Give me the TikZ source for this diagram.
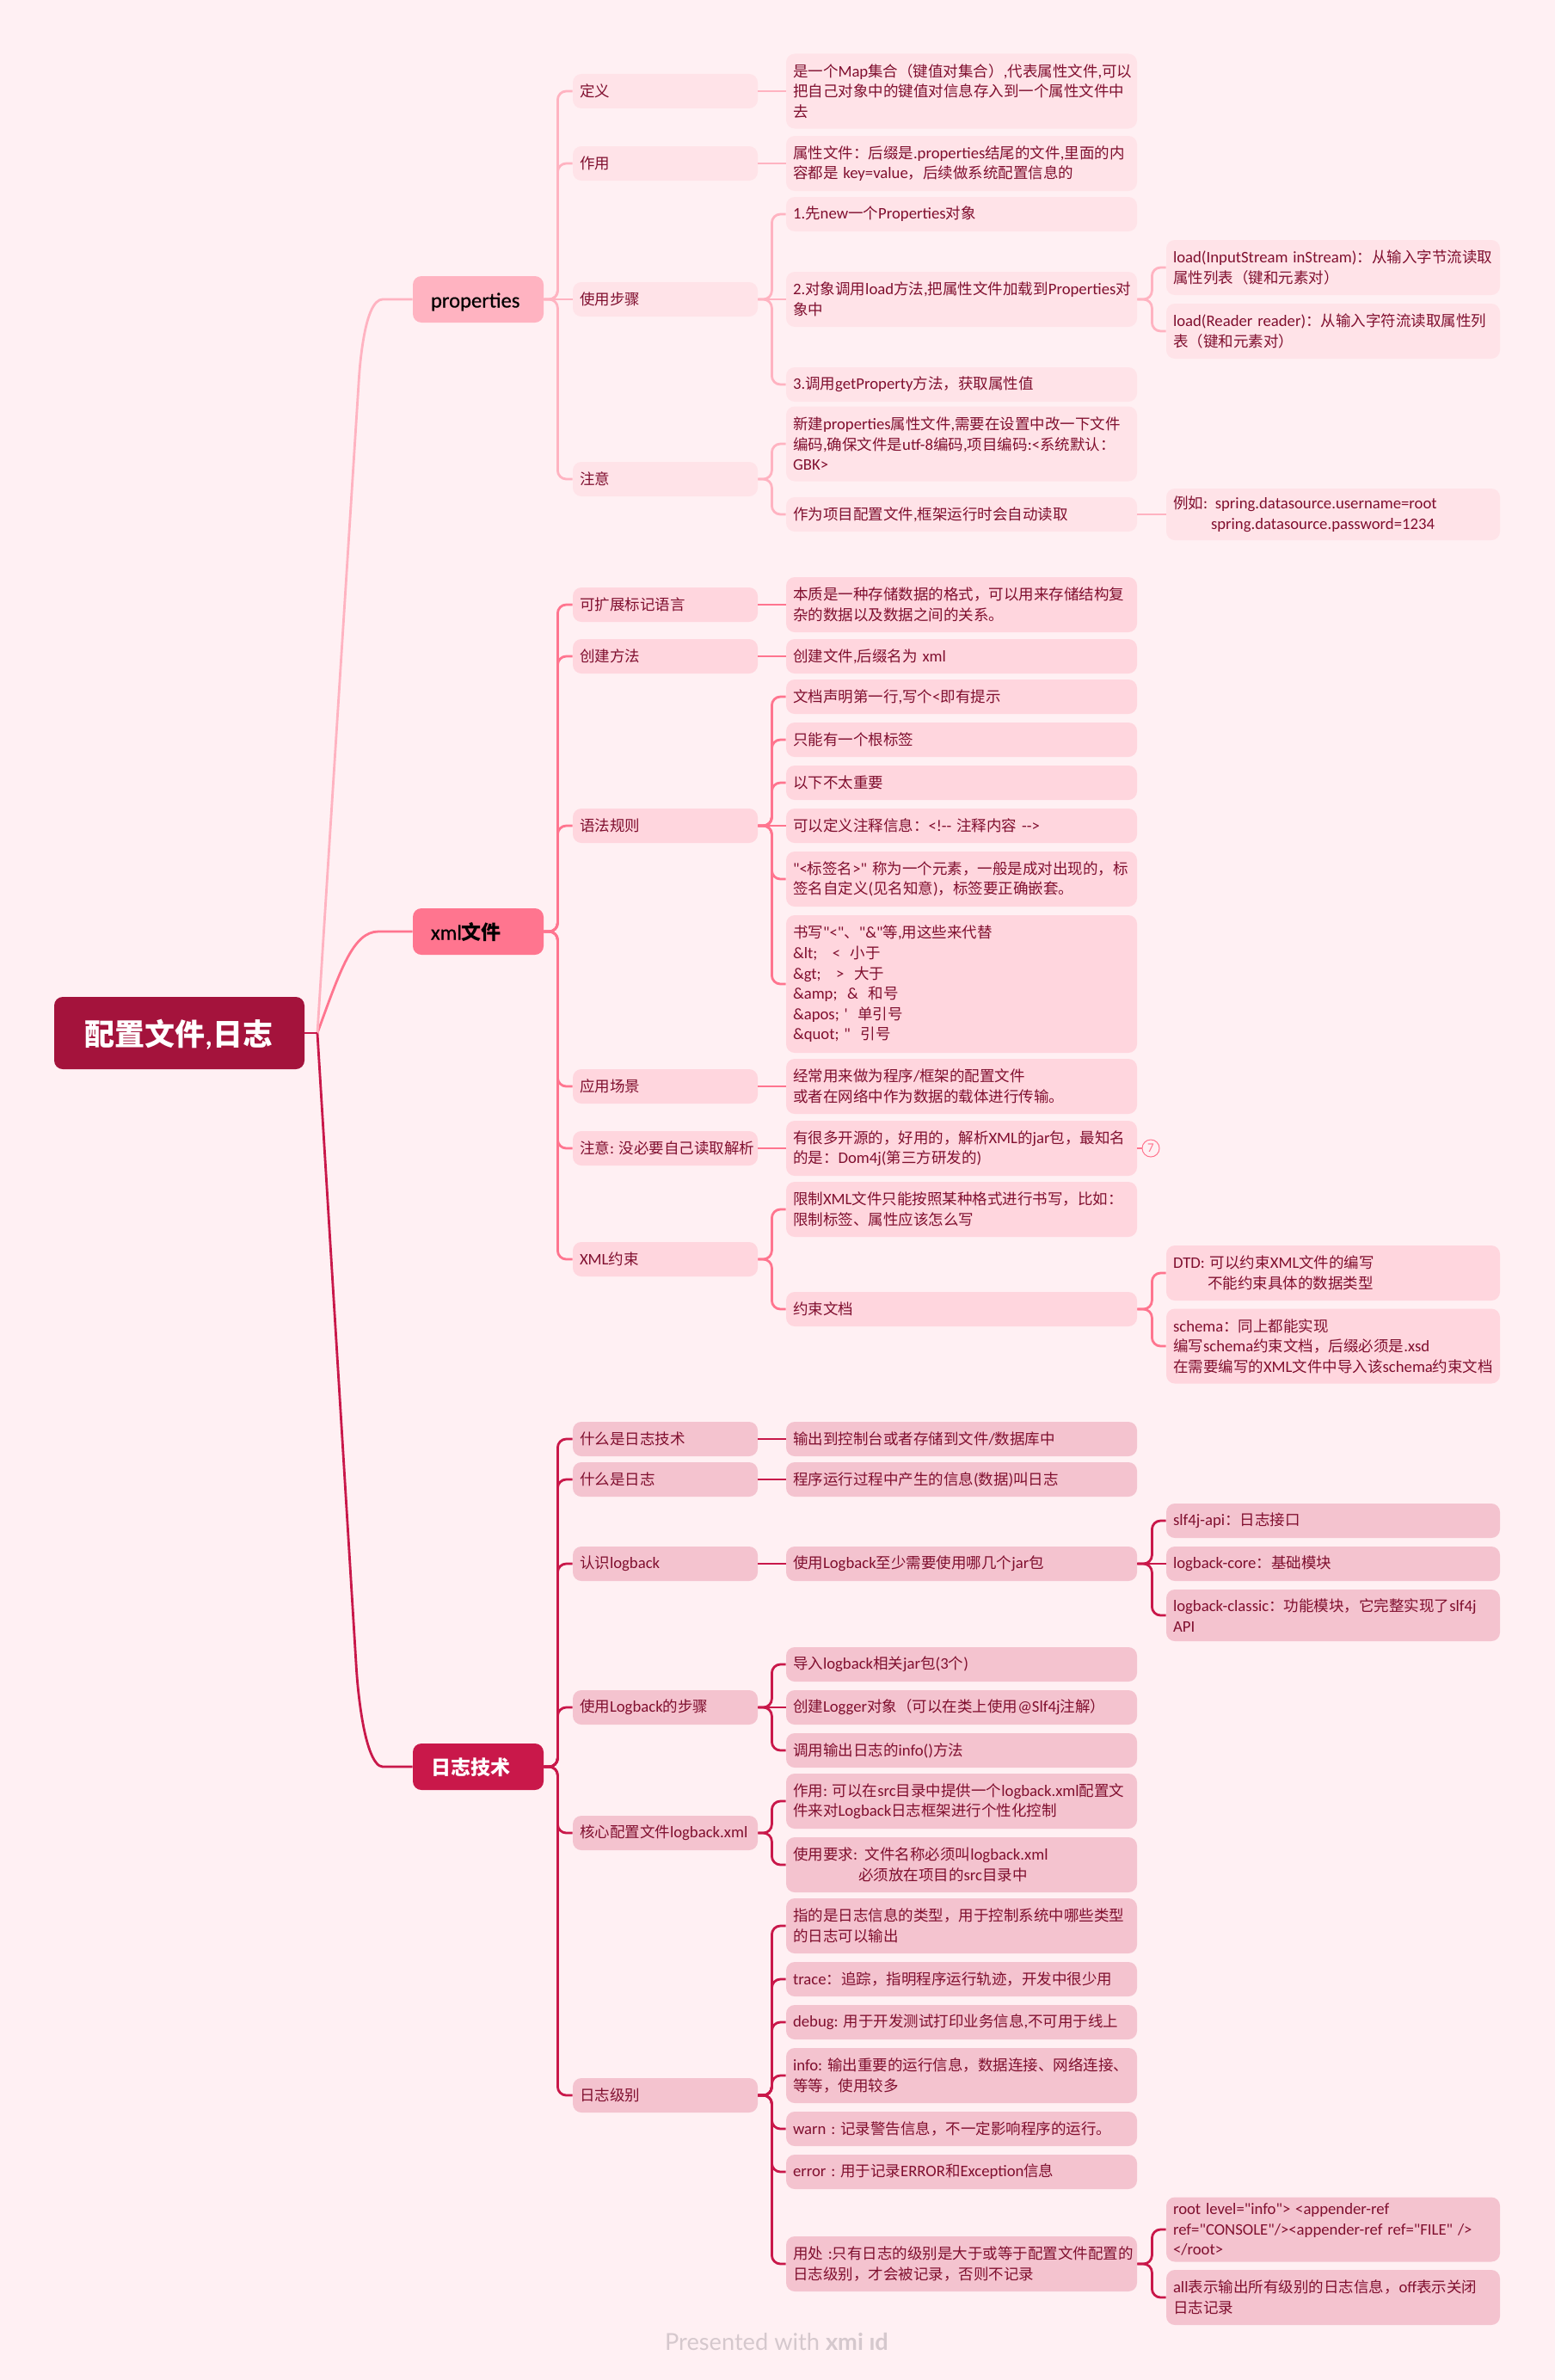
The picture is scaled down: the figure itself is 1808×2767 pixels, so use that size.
\documentclass[tikz,border=0pt]{standalone}
\usepackage{fontspec}
\setmainfont{Carlito}
\newfontfamily\latnfam[Scale=1.07,BoldFont=Carlito,BoldFeatures={FakeBold=0.5}]{Carlito}
\newfontfamily\cjkfam{Noto Sans CJK SC}
\newfontfamily\stampfam{Lato}
\usetikzlibrary{positioning}
% CJK characters switch to the CJK family, everything else stays latin
\XeTeXinterchartokenstate=1
\newXeTeXintercharclass\cjkclass
\count255="3000
\loop \XeTeXcharclass\count255=\cjkclass \ifnum\count255<"9FFF \advance\count255 by 1 \repeat
\count255="FF00
\loop \XeTeXcharclass\count255=\cjkclass \ifnum\count255<"FFEF \advance\count255 by 1 \repeat
\XeTeXinterchartoks 0 \cjkclass={\cjkfam}
\XeTeXinterchartoks \cjkclass 0={\latnfam}
\XeTeXinterchartoks 4095 \cjkclass={\cjkfam}
\XeTeXinterchartoks 4095 0={\latnfam}
\definecolor{pagebg}{HTML}{FFF0F3}
\definecolor{rootc}{HTML}{A4133C}
\definecolor{propc}{HTML}{FFB3C1}
\definecolor{xmlc}{HTML}{FF758F}
\definecolor{logc}{HTML}{C9184A}
\definecolor{propsub}{HTML}{FFE3E8}
\definecolor{xmlsub}{HTML}{FFD6DE}
\definecolor{logsub}{HTML}{F4C3CF}
\definecolor{subtext}{HTML}{800F2F}
\definecolor{stamp}{HTML}{D5C8CD}

\begin{document}
\begin{tikzpicture}[x=0.5pt, y=-0.5pt,
        every node/.style={font=\fontsize{8.75}{11.8}\selectfont},
        leaf/.style={rectangle, rounded corners=5pt, inner xsep=4pt, inner ysep=0pt, minimum height=20pt, align=left, text=subtext},
        cola/.style={leaf, text width=99.5pt},
        colb/.style={leaf, text width=196pt},
        colc/.style={leaf, text width=186pt},
        two/.style={minimum height=32pt},
        three/.style={minimum height=43.5pt},
        six/.style={minimum height=80pt},
        prop/.style={fill=propsub},
        xml/.style={fill=xmlsub},
        log/.style={fill=logsub},
        branch/.style={rectangle, rounded corners=5pt, inner xsep=10.5pt, inner ysep=0pt, text width=55pt, minimum height=27pt, text height=12pt, text depth=2.5pt, align=left, font=\fontsize{11.5}{14}\selectfont\bfseries},
        elbow/.style={to path={-- ++(#1,0) |- (\tikztotarget)}},
        link/.style={line width=1.4pt, rounded corners=5pt},
        plink/.style={link, propc},
        xlink/.style={link, xmlc},
        llink/.style={link, logc}
      ]
        \useasboundingbox (0,0) rectangle (1808,2767);
        \fill[pagebg] (0,0) rectangle (1808,2767);

        % root and main branches
        \node[branch, fill=rootc, text=white, inner xsep=17.5pt, text width=110.5pt, minimum height=42pt, text height=18pt, text depth=4pt, font=\fontsize{17.5}{20}\selectfont\bfseries] (root) at (208.5,1201) {配置文件,日志};
        \node[branch, fill=propc, text=black] (props) at (556,348) {properties};
        \node[branch, fill=xmlc, text=black] (xmlf) at (556,1083) {xml文件};
        \node[branch, fill=logc, text=white] (logt) at (556,2054) {日志技术};
        \coordinate (hub) at (369,1201);

        % properties
        \node[cola, prop] (p1) at (773.5,106) {定义};
        \node[cola, prop] (p2) at (773.5,190) {作用};
        \node[cola, prop] (p3) at (773.5,348) {使用步骤};
        \node[cola, prop] (p4) at (773.5,557) {注意};
        \node[colb, prop, three] (p1a) at (1118,106) {是一个Map集合（键值对集合）,代表属性文件,可以\\把自己对象中的键值对信息存入到一个属性文件中\\去};
        \node[colb, prop, two] (p2a) at (1118,190) {属性文件：后缀是.properties结尾的文件,里面的内\\容都是 key=value，后续做系统配置信息的};
        \node[colb, prop] (p3a) at (1118,249) {1.先new一个Properties对象};
        \node[colb, prop, two] (p3b) at (1118,348) {2.对象调用load方法,把属性文件加载到Properties对\\象中};
        \node[colb, prop] (p3c) at (1118,447) {3.调用getProperty方法，获取属性值};
        \node[colb, prop, three] (p4a) at (1118,516) {新建properties属性文件,需要在设置中改一下文件\\编码,确保文件是utf-8编码,项目编码:<系统默认：\\GBK>};
        \node[colb, prop] (p4b) at (1118,598) {作为项目配置文件,框架运行时会自动读取};
        \node[colc, prop, two] (p3b1) at (1550,311) {load(InputStream~inStream)：从输入字节流读取\\属性列表（键和元素对）};
        \node[colc, prop, two] (p3b2) at (1550,385) {load(Reader~reader)：从输入字符流读取属性列\\表（键和元素对）};
        \node[colc, prop, two, minimum height=30pt] (p4b1) at (1550,598) {例如: spring.datasource.username=root\\\hspace*{22pt}spring.datasource.password=1234};

        % xml
        \node[cola, xml] (x1) at (773.5,703) {可扩展标记语言};
        \node[cola, xml] (x2) at (773.5,763) {创建方法};
        \node[cola, xml] (x3) at (773.5,960) {语法规则};
        \node[cola, xml] (x4) at (773.5,1263) {应用场景};
        \node[cola, xml] (x5) at (773.5,1335) {注意:~没必要自己读取解析};
        \node[cola, xml] (x6) at (773.5,1464) {XML约束};
        \node[colb, xml, two] (x1a) at (1118,703) {本质是一种存储数据的格式，可以用来存储结构复\\杂的数据以及数据之间的关系。};
        \node[colb, xml] (x2a) at (1118,763) {创建文件,后缀名为 xml};
        \node[colb, xml] (x3a) at (1118,810) {文档声明第一行,写个<即有提示};
        \node[colb, xml] (x3b) at (1118,860) {只能有一个根标签};
        \node[colb, xml] (x3c) at (1118,910) {以下不太重要};
        \node[colb, xml] (x3d) at (1118,960) {可以定义注释信息：<!-{}- 注释内容 -{}->};
        \node[colb, xml, two] (x3e) at (1118,1022) {"<标签名>" 称为一个元素，一般是成对出现的，标\\签名自定义(见名知意)，标签要正确嵌套。};
        \node[colb, xml, six] (x3f) at (1118,1144) {书写"<"、"\&"等,用这些来代替\\\&lt;\ \ \ <\ \ 小于\\\&gt;\ \ \ >\ \ 大于\\\&amp;\ \ \&\ \ 和号\\\&apos;\ '\ \ 单引号\\\&quot;\ "\ \ 引号};
        \node[colb, xml, two] (x4a) at (1118,1263) {经常用来做为程序/框架的配置文件\\或者在网络中作为数据的载体进行传输。};
        \node[colb, xml, two] (x5a) at (1118,1335) {有很多开源的，好用的，解析XML的jar包，最知名\\的是：Dom4j(第三方研发的)};
        \node[colb, xml, two] (x6a) at (1118,1406) {限制XML文件只能按照某种格式进行书写，比如：\\限制标签、属性应该怎么写};
        \node[colb, xml] (x6b) at (1118,1522) {约束文档};
        \node[colc, xml, two] (x6b1) at (1550,1480) {DTD: 可以约束XML文件的编写\\\hspace*{20pt}不能约束具体的数据类型};
        \node[colc, xml, three] (x6b2) at (1550,1565) {schema：同上都能实现\\编写schema约束文档，后缀必须是.xsd\\在需要编写的XML文件中导入该schema约束文档};
        \node[circle, draw=xmlc, fill=pagebg, text=xmlc, line width=0.5pt, inner sep=0pt, minimum size=10pt, font=\fontsize{7}{8}\selectfont] (note) at (1338,1335) {7};

        % logback
        \node[cola, log] (l1) at (773.5,1673) {什么是日志技术};
        \node[cola, log] (l2) at (773.5,1720) {什么是日志};
        \node[cola, log] (l3) at (773.5,1818) {认识logback};
        \node[cola, log] (l4) at (773.5,1985) {使用Logback的步骤};
        \node[cola, log] (l5) at (773.5,2131) {核心配置文件logback.xml};
        \node[cola, log] (l6) at (773.5,2436) {日志级别};
        \node[colb, log] (l1a) at (1118,1673) {输出到控制台或者存储到文件/数据库中};
        \node[colb, log] (l2a) at (1118,1720) {程序运行过程中产生的信息(数据)叫日志};
        \node[colb, log] (l3a) at (1118,1818) {使用Logback至少需要使用哪几个jar包};
        \node[colb, log] (l4a) at (1118,1935) {导入logback相关jar包(3个)};
        \node[colb, log] (l4b) at (1118,1985) {创建Logger对象（可以在类上使用@Slf4j注解）};
        \node[colb, log] (l4c) at (1118,2035) {调用输出日志的info()方法};
        \node[colb, log, two] (l5a) at (1118,2094) {作用:~可以在src目录中提供一个logback.xml配置文\\件来对Logback日志框架进行个性化控制};
        \node[colb, log, two] (l5b) at (1118,2168) {使用要求: 文件名称必须叫logback.xml\\\hspace*{38pt}必须放在项目的src目录中};
        \node[colb, log, two] (l6a) at (1118,2239) {指的是日志信息的类型，用于控制系统中哪些类型\\的日志可以输出};
        \node[colb, log] (l6b) at (1118,2301) {trace：追踪，指明程序运行轨迹，开发中很少用};
        \node[colb, log] (l6c) at (1118,2351) {debug:~用于开发测试打印业务信息,不可用于线上};
        \node[colb, log, two] (l6d) at (1118,2413) {info:~输出重要的运行信息，数据连接、网络连接、\\等等，使用较多};
        \node[colb, log] (l6e) at (1118,2475) {warn :~记录警告信息，不一定影响程序的运行。};
        \node[colb, log] (l6f) at (1118,2525) {error :~用于记录ERROR和Exception信息};
        \node[colb, log, two] (l6g) at (1118,2632) {用处~:只有日志的级别是大于或等于配置文件配置的\\日志级别，才会被记录，否则不记录};
        \node[colc, log] (l3a1) at (1550,1768) {slf4j-api：日志接口};
        \node[colc, log] (l3a2) at (1550,1818) {logback-core：基础模块};
        \node[colc, log, two, minimum height=30pt] (l3a3) at (1550,1878) {logback-classic：功能模块，它完整实现了slf4j\\API};
        \node[colc, log, three, minimum height=37.5pt] (l6g1) at (1550,2592) {root~level="info">~<appender-ref\\ref="CONSOLE"/><appender-ref~ref="FILE"~/>\\</root>};
        \node[colc, log, two] (l6g2) at (1550,2671) {all表示输出所有级别的日志信息，off表示关闭\\日志记录};

        \node[text=stamp, font=\fontsize{13.6}{15}\selectfont] (stampn) at (903,2722) {\XeTeXinterchartokenstate=0\relax\stampfam Presented with {\bfseries xmi ıd}};

        % main lines
        \draw[link, logc] (hub) -- (415,1950) .. controls (423,2030) and (435,2054) .. (455,2054) -- (logt.west);
        \draw[link, xmlc] (hub) .. controls (395,1130) and (410,1083) .. (450,1083) -- (xmlf.west);
        \draw[link, propc] (hub) -- (418,430) .. controls (425,365) and (435,348) .. (455,348) -- (props.west);
        \draw[link, logc] (root.east) -- (hub);

        % branches
        \foreach \n in {p1,p2,p4} {\draw[plink] (props.east) to[elbow=16] (\n.west);}
        \draw[plink] (props.east) -- (p3.west);
        \draw[plink] (p1.east) -- (p1a.west);
        \draw[plink] (p2.east) -- (p2a.west);
        \foreach \n in {p3a,p3c} {\draw[plink] (p3.east) to[elbow=16] (\n.west);}
        \draw[plink] (p3.east) -- (p3b.west);
        \foreach \n in {p3b1,p3b2} {\draw[plink] (p3b.east) to[elbow=17] (\n.west);}
        \foreach \n in {p4a,p4b} {\draw[plink] (p4.east) to[elbow=16] (\n.west);}
        \draw[plink] (p4b.east) -- (p4b1.west);

        \foreach \n in {x1,x2,x3,x4,x5,x6} {\draw[xlink] (xmlf.east) to[elbow=16] (\n.west);}
        \draw[xlink] (x1.east) -- (x1a.west);
        \draw[xlink] (x2.east) -- (x2a.west);
        \foreach \n in {x3a,x3b,x3c,x3e,x3f} {\draw[xlink] (x3.east) to[elbow=16] (\n.west);}
        \draw[xlink] (x3.east) -- (x3d.west);
        \draw[xlink] (x4.east) -- (x4a.west);
        \draw[xlink] (x5.east) -- (x5a.west);
        \draw[xlink] (x5a.east) -- (note.west);
        \foreach \n in {x6a,x6b} {\draw[xlink] (x6.east) to[elbow=16] (\n.west);}
        \foreach \n in {x6b1,x6b2} {\draw[xlink] (x6b.east) to[elbow=17] (\n.west);}

        \foreach \n in {l1,l2,l3,l4,l5,l6} {\draw[llink] (logt.east) to[elbow=16] (\n.west);}
        \draw[llink] (l1.east) -- (l1a.west);
        \draw[llink] (l2.east) -- (l2a.west);
        \draw[llink] (l3.east) -- (l3a.west);
        \foreach \n in {l4a,l4c} {\draw[llink] (l4.east) to[elbow=16] (\n.west);}
        \draw[llink] (l4.east) -- (l4b.west);
        \foreach \n in {l5a,l5b} {\draw[llink] (l5.east) to[elbow=16] (\n.west);}
        \foreach \n in {l6a,l6b,l6c,l6d,l6e,l6f,l6g} {\draw[llink] (l6.east) to[elbow=16] (\n.west);}
        \foreach \n in {l3a1,l3a3} {\draw[llink] (l3a.east) to[elbow=17] (\n.west);}
        \draw[llink] (l3a.east) -- (l3a2.west);
        \foreach \n in {l6g1,l6g2} {\draw[llink] (l6g.east) to[elbow=17] (\n.west);}
      \end{tikzpicture}
\end{document}
